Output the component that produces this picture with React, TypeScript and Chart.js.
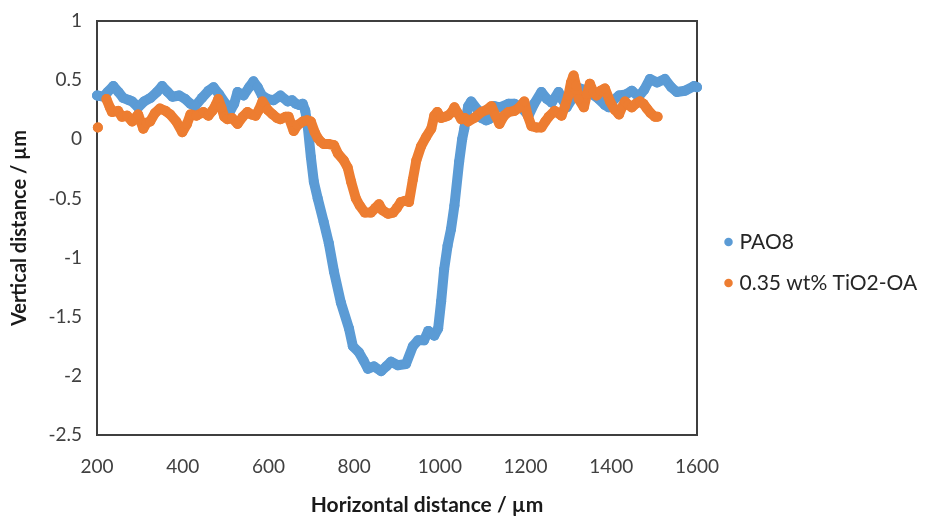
import React, { useEffect, useRef } from 'react';
import { Chart, registerables } from 'chart.js';

Chart.register(...registerables);

const xTickValues = [200, 400, 600, 800, 1000, 1200, 1400, 1600];
const yTickValues = [1, 0.5, 0, -0.5, -1, -1.5, -2, -2.5];

const seriesNames = ['PAO8', '0.35 wt% TiO2-OA'];

const pao8X = [200, 215, 225, 238, 250, 261, 275, 282, 296, 310, 325, 340, 352, 365, 376, 392, 406, 418, 429, 445, 460, 472, 485, 500, 511, 520, 528, 542, 555, 565, 575, 585, 598, 612, 628, 645, 655, 664, 672, 680, 686, 692, 699, 706, 715, 729, 741, 753, 769, 788, 797, 811, 822, 832, 846, 863, 875, 886, 902, 921, 937, 949, 963, 973, 987, 996, 1003, 1010, 1018, 1026, 1034, 1045, 1052, 1057, 1066, 1073, 1088, 1097, 1108, 1115, 1127, 1140, 1160, 1174, 1190, 1207, 1220, 1237, 1250, 1261, 1277, 1287, 1296, 1310, 1326, 1347, 1360, 1371, 1385, 1394, 1405, 1418, 1435, 1448, 1464, 1477, 1490, 1507, 1525, 1540, 1553, 1572, 1593, 1600];
const pao8Y = [0.37, 0.36, 0.40, 0.45, 0.40, 0.35, 0.33, 0.32, 0.27, 0.32, 0.35, 0.40, 0.45, 0.40, 0.36, 0.37, 0.34, 0.30, 0.28, 0.35, 0.41, 0.44, 0.38, 0.30, 0.24, 0.30, 0.40, 0.37, 0.44, 0.49, 0.44, 0.37, 0.34, 0.33, 0.37, 0.32, 0.33, 0.30, 0.29, 0.30, 0.24, 0.10, -0.15, -0.36, -0.50, -0.70, -0.88, -1.12, -1.38, -1.60, -1.75, -1.80, -1.87, -1.94, -1.92, -1.96, -1.92, -1.88, -1.91, -1.90, -1.75, -1.70, -1.70, -1.62, -1.66, -1.60, -1.37, -1.10, -0.90, -0.76, -0.56, -0.19, 0.00, 0.09, 0.28, 0.32, 0.25, 0.18, 0.16, 0.17, 0.28, 0.27, 0.30, 0.30, 0.27, 0.20, 0.30, 0.40, 0.34, 0.31, 0.40, 0.33, 0.27, 0.35, 0.43, 0.41, 0.37, 0.34, 0.29, 0.27, 0.33, 0.37, 0.38, 0.41, 0.36, 0.42, 0.51, 0.48, 0.51, 0.44, 0.40, 0.41, 0.45, 0.44];

const tio2X = [202, 212, 222, 230, 235, 249, 258, 270, 282, 296, 308, 316, 324, 335, 347, 360, 371, 385, 399, 410, 418, 432, 448, 460, 469, 477, 483, 490, 497, 504, 515, 528, 540, 551, 560, 570, 578, 586, 598, 610, 620, 628, 640, 647, 659, 668, 680, 690, 699, 708, 715, 722, 729, 741, 753, 762, 776, 785, 793, 804, 813, 825, 839, 850, 858, 866, 879, 891, 900, 909, 919, 928, 937, 945, 956, 968, 980, 987, 994, 1003, 1012, 1019, 1028, 1034, 1042, 1050, 1058, 1066, 1080, 1097, 1110, 1120, 1130, 1139, 1150, 1160, 1174, 1186, 1197, 1205, 1214, 1225, 1237, 1246, 1254, 1268, 1284, 1292, 1300, 1306, 1312, 1318, 1324, 1336, 1343, 1350, 1358, 1366, 1375, 1385, 1397, 1408, 1418, 1425, 1432, 1440, 1448, 1457, 1467, 1475, 1483, 1492, 1502, 1508];
const tio2Y = [0.10, null, 0.34, 0.27, 0.23, 0.24, 0.19, 0.20, 0.15, 0.21, 0.09, 0.14, 0.15, 0.22, 0.26, 0.24, 0.21, 0.15, 0.06, 0.13, 0.21, 0.20, 0.23, 0.20, 0.24, 0.29, 0.34, 0.27, 0.19, 0.17, 0.18, 0.13, 0.19, 0.23, 0.21, 0.20, 0.25, 0.32, 0.25, 0.21, 0.18, 0.17, 0.19, 0.19, 0.07, 0.12, 0.15, 0.16, 0.15, 0.06, 0.01, -0.02, -0.04, -0.04, -0.05, -0.12, -0.18, -0.24, -0.36, -0.50, -0.56, -0.62, -0.62, -0.58, -0.55, -0.60, -0.63, -0.62, -0.58, -0.53, -0.52, -0.53, -0.34, -0.18, -0.06, 0.02, 0.09, 0.20, 0.23, 0.18, 0.19, 0.20, 0.23, 0.27, 0.22, 0.17, 0.18, 0.15, 0.18, 0.23, 0.25, 0.28, 0.20, 0.13, 0.20, 0.23, 0.24, 0.27, 0.32, 0.20, 0.11, 0.10, 0.10, 0.15, 0.19, 0.24, 0.20, 0.28, 0.37, 0.48, 0.54, 0.45, 0.34, 0.27, 0.38, 0.47, 0.40, 0.37, 0.41, 0.43, 0.32, 0.25, 0.21, 0.27, 0.32, 0.29, 0.27, 0.30, 0.32, 0.30, 0.26, 0.22, 0.19, 0.19];

const BLUE = '#5B9BD5';
const ORANGE = '#ED7D31';
const FONT = 'Lato, "Open Sans", sans-serif';

const toPoints = (xs: number[], ys: (number | null)[]) => xs.map((x, i) => ({ x, y: ys[i] }));

const plotBox = {
  id: 'plotBox',
  beforeDatasetsDraw(chart: any) {
    const { ctx, chartArea } = chart;
    ctx.save();
    ctx.strokeStyle = '#3f3f3f';
    ctx.lineWidth = 2;
    ctx.strokeRect(chartArea.left, chartArea.top, chartArea.right - chartArea.left, chartArea.bottom - chartArea.top);
    ctx.restore();
  },
};

// nudge the legend box and the x-axis title like the reference layout
const layoutNudge = {
  id: 'layoutNudge',
  afterLayout(chart: any) {
    const lg = chart.legend;
    if (lg) {
      lg.left += 11;
      lg.right += 11;
      lg.top += 3;
      lg.bottom += 3;
    }
    const sx = chart.scales.x;
    if (sx && !sx.__titleShifted) {
      const orig = sx.drawTitle.bind(sx);
      sx.drawTitle = function (...args: any[]) {
        const ctx = this.ctx;
        ctx.save();
        ctx.translate(30, 0);
        orig(...args);
        ctx.restore();
      };
      sx.__titleShifted = true;
    }
  },
};

export default function App() {
  const ref = useRef<HTMLCanvasElement | null>(null);

  useEffect(() => {
    if (!ref.current) return;
    const common = {
      showLine: true,
      borderWidth: 10,
      pointRadius: 5,
      pointHoverRadius: 5,
      pointBorderWidth: 0,
      borderCapStyle: 'round' as const,
      borderJoinStyle: 'round' as const,
      tension: 0,
      spanGaps: false,
      clip: false as const,
    };
    const chart = new Chart(ref.current, {
      type: 'scatter',
      data: {
        datasets: [
          {
            ...common,
            label: seriesNames[0],
            data: toPoints(pao8X, pao8Y),
            borderColor: BLUE,
            backgroundColor: BLUE,
            pointBackgroundColor: BLUE,
            order: 1,
          },
          {
            ...common,
            label: seriesNames[1],
            data: toPoints(tio2X, tio2Y),
            borderColor: ORANGE,
            backgroundColor: ORANGE,
            pointBackgroundColor: ORANGE,
            order: 0,
          },
        ],
      },
      options: {
        animation: false,
        responsive: true,
        maintainAspectRatio: false,
        layout: { padding: 0 },
        plugins: {
          tooltip: { enabled: false },
          legend: {
            position: 'right',
            labels: {
              usePointStyle: true,
              pointStyle: 'circle',
              boxWidth: 1,
              boxHeight: 6,
              padding: 20,
              color: '#262626',
              font: { family: FONT, size: 21 },
              sort: (a: any, b: any) => a.datasetIndex - b.datasetIndex,
            },
          },
        },
        scales: {
          x: {
            type: 'linear',
            min: 200,
            max: 1600,
            afterBuildTicks: (scale: any) => {
              scale.ticks = xTickValues.map((v) => ({ value: v }));
            },
            afterFit: (scale: any) => {
              scale.height = 84;
              scale.paddingRight = 231;
            },
            grid: { display: false, drawTicks: false },
            border: { display: false },
            ticks: {
              padding: 20,
              color: '#404040',
              font: { family: FONT, size: 19 },
              callback: (v: any) => String(v),
            },
            title: {
              display: true,
              text: 'Horizontal distance / µm',
              color: '#1a1a1a',
              font: { family: FONT, size: 21, weight: 'bold' },
              padding: { top: 0, bottom: 1 },
            },
          },
          y: {
            type: 'linear',
            min: -2.5,
            max: 1,
            afterBuildTicks: (scale: any) => {
              scale.ticks = yTickValues.map((v) => ({ value: v }));
            },
            afterFit: (scale: any) => {
              scale.width = 97;
              scale.paddingTop = 21;
            },
            grid: { display: false, drawTicks: false },
            border: { display: false },
            ticks: {
              padding: 15,
              color: '#404040',
              font: { family: FONT, size: 19 },
              callback: (v: any) => String(v),
            },
            title: {
              display: true,
              text: 'Vertical distance / µm',
              color: '#1a1a1a',
              font: { family: FONT, size: 20, weight: 'bold' },
              padding: { top: 8, bottom: 0 },
            },
          },
        },
      },
      plugins: [plotBox, layoutNudge],
    });
    return () => chart.destroy();
  }, []);

  return (
    <div style={{ position: 'fixed', left: 0, top: 0, width: 928, height: 519, background: '#fff' }}>
      <canvas ref={ref} />
    </div>
  );
}
